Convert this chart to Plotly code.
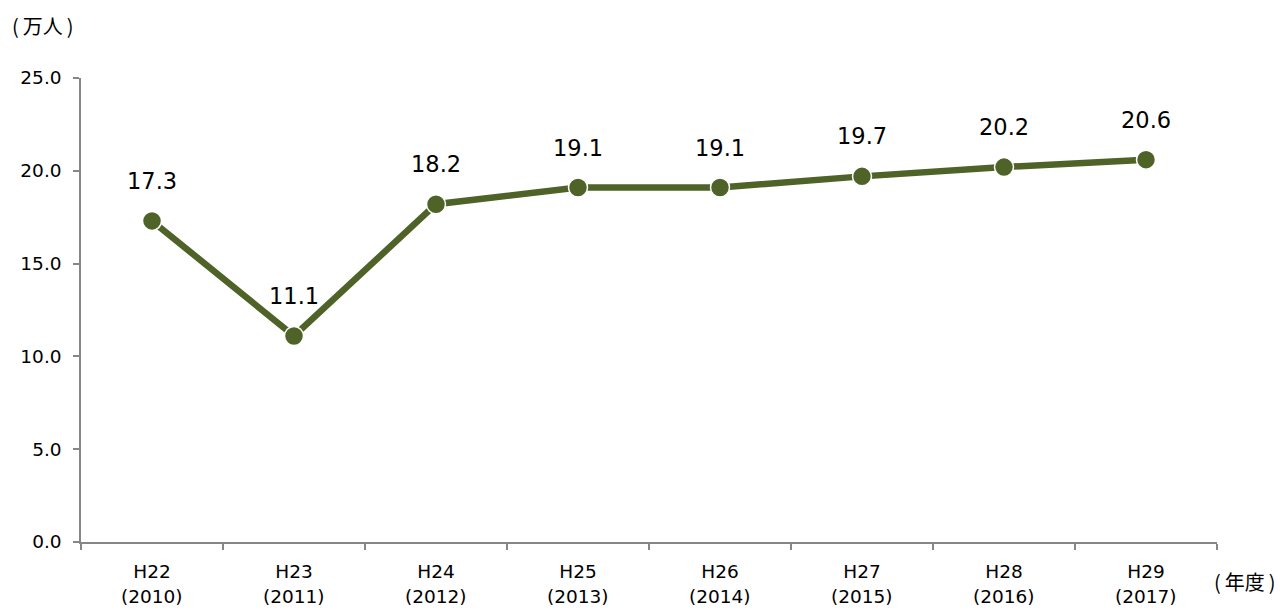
import plotly.graph_objects as go

categories = ["H22", "H23", "H24", "H25", "H26", "H27", "H28", "H29"]
years = ["(2010)", "(2011)", "(2012)", "(2013)", "(2014)", "(2015)", "(2016)", "(2017)"]
values = [17.3, 11.1, 18.2, 19.1, 19.1, 19.7, 20.2, 20.6]
y_ticks = [0, 5, 10, 15, 20, 25]

color = "#4F6228"
axis_color = "#868686"
font_family = "DejaVu Sans, Verdana, Noto Sans CJK JP"
cjk_family = "Noto Sans CJK JP"

fig = go.Figure()
fig.add_trace(go.Scatter(
    x=categories, y=values, mode="lines+markers",
    line=dict(color=color, width=6.5),
    marker=dict(color=color, size=19, line=dict(color="white", width=1.5)),
    hoverinfo="skip", showlegend=False,
))

for c, v in zip(categories, values):
    fig.add_annotation(x=c, y=v, text=f"{v:.1f}", showarrow=False, yshift=40,
                       font=dict(size=22.5, color="#000000", family=font_family))

for c, yr in zip(categories, years):
    fig.add_annotation(x=c, y=0, yref="paper", text=yr, showarrow=False, yshift=-54,
                       yanchor="middle",
                       font=dict(size=18.5, color="#000000", family=font_family))

fig.add_annotation(xref="paper", yref="paper", x=0, y=1.0, xshift=-71, yshift=53,
                   xanchor="left", yanchor="middle", text="(\u2009万人\u2009)", showarrow=False,
                   font=dict(size=20, color="#000000", family=cjk_family))
fig.add_annotation(xref="paper", yref="paper", x=1.0, y=0, xshift=-5, yshift=-39,
                   xanchor="left", yanchor="middle", text="(\u2009年度\u2009)", showarrow=False,
                   font=dict(size=20, color="#000000", family=cjk_family))

fig.update_layout(
    width=1283, height=614,
    margin=dict(l=71, r=74, t=70, b=80),
    paper_bgcolor="white", plot_bgcolor="white",
    font=dict(family=font_family, color="#000000"),
    xaxis=dict(
        type="category", range=[-0.5, 7.5], tickson="boundaries",
        showline=True, linecolor=axis_color, linewidth=1.5,
        ticks="outside", ticklen=6, tickcolor=axis_color, tickwidth=1.5,
        ticklabelstandoff=12,
        showgrid=False, zeroline=False,
        tickfont=dict(size=18.5, color="#000000", family=font_family),
    ),
    yaxis=dict(
        range=[0, 25], tickvals=y_ticks, tickformat=".1f",
        showline=True, linecolor=axis_color, linewidth=1.5,
        ticks="outside", ticklen=6, tickcolor=axis_color, tickwidth=1.5,
        ticklabelstandoff=8,
        showgrid=False, zeroline=False,
        tickfont=dict(size=18.5, color="#000000", family=font_family),
    ),
)

fig.write_html("out.html")
